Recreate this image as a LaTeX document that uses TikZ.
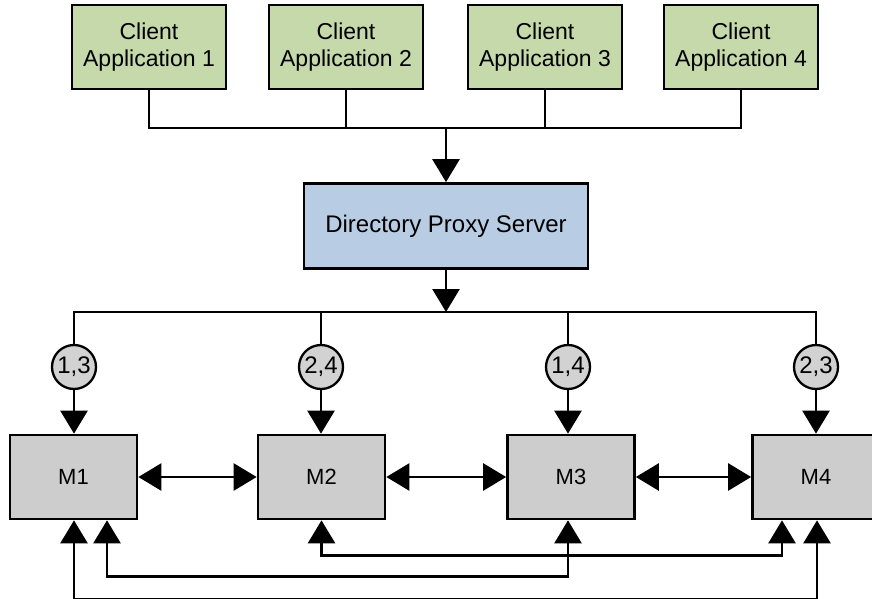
\documentclass[tikz,border=0pt]{standalone}
\usepackage{fontspec}
\setmainfont{Liberation Sans}
\usetikzlibrary{arrows.meta}
\definecolor{clientgreen}{RGB}{197,217,171}
\definecolor{proxyblue}{RGB}{184,205,228}
\definecolor{mgray}{RGB}{205,205,205}
\definecolor{cgray}{RGB}{210,210,210}
\begin{document}
\begin{tikzpicture}[x=1pt,y=-1pt,line width=2.6pt,
  box/.style={draw=black,line width=2.7pt,inner sep=0pt,align=center,
    font=\fontsize{24}{27}\selectfont},
  client/.style={box,fill=clientgreen,minimum width=154pt,minimum height=84pt,
    font=\fontsize{23}{27}\selectfont},
  proxy/.style={box,fill=proxyblue,minimum width=284pt,minimum height=85pt},
  mbox/.style={box,fill=mgray,minimum width=127pt,minimum height=84pt,
    font=\fontsize{22}{27}\selectfont},
  tag/.style={circle,draw=black,line width=2.3pt,fill=cgray,inner sep=0pt,
    minimum size=44pt,font=\fontsize{24}{27}\selectfont},
  tip/.style={-{Triangle[length=23pt,width=27pt]}},
  twotips/.style={{Triangle[length=23pt,width=27pt]}-{Triangle[length=23pt,width=27pt]}}]
\useasboundingbox (0,0) rectangle (872,599);

% clients
\node[client] (CA1) at (149,47) {Client\\Application 1};
\node[client] (CA2) at (346,47) {Client\\Application 2};
\node[client] (CA3) at (545,47) {Client\\Application 3};
\node[client] (CA4) at (741,47) {Client\\Application 4};

% proxy
\node[proxy] (P) at (446,226) {Directory Proxy Server};

% masters
\node[mbox] (M1) at (73.5,477) {M1};
\node[mbox] (M2) at (321.5,477) {M2};
\node[mbox] (M3) at (571,477) {M3};
\node[mbox] (M4) at (816,477) {M4};

% tags
\node[tag] (c1) at (74,367) {1,3};
\node[tag] (c2) at (321,367) {2,4};
\node[tag] (c3) at (568,367) {1,4};
\node[tag] (c4) at (816,367) {2,3};

% top bus
\coordinate (tb) at (0,128);
\draw (CA1.south) -- (CA1.south |- tb) -- (CA4.south |- tb) -- (CA4.south);
\draw (CA2.south) -- (CA2.south |- tb);
\draw (CA3.south) -- (CA3.south |- tb);
\draw[tip] (P.north |- tb) -- (P.north);

% bottom bus
\coordinate (bb) at (0,312);
\draw[tip] (P.south) -- (P.south |- bb);
\draw (c1) -- (c1 |- bb) -- (c4 |- bb) -- (c4);
\draw (c2) -- (c2 |- bb);
\draw (c3) -- (c3 |- bb);

% tags to masters
\draw[tip] (c1) -- (c1 |- M1.north);
\draw[tip] (c2) -- (c2 |- M2.north);
\draw[tip] (c3) -- (c3 |- M3.north);
\draw[tip] (c4) -- (c4 |- M4.north);

% neighbour replication
\draw[twotips] (M1.east) -- (M2.west);
\draw[twotips] (M2.east) -- (M3.west);
\draw[twotips] (M3.east) -- (M4.west);

% lower replication loops
\draw[twotips] (M2.south) -- ++(0,35) -| ([xshift=-34pt]M4.south);
\draw[twotips] ([xshift=33.5pt]M1.south) -- ++(0,56) -| ([xshift=-3pt]M3.south);
\draw[twotips] ([xshift=0.5pt]M1.south) -- ++(0,79) -| ([xshift=1pt]M4.south);
\end{tikzpicture}
\end{document}
